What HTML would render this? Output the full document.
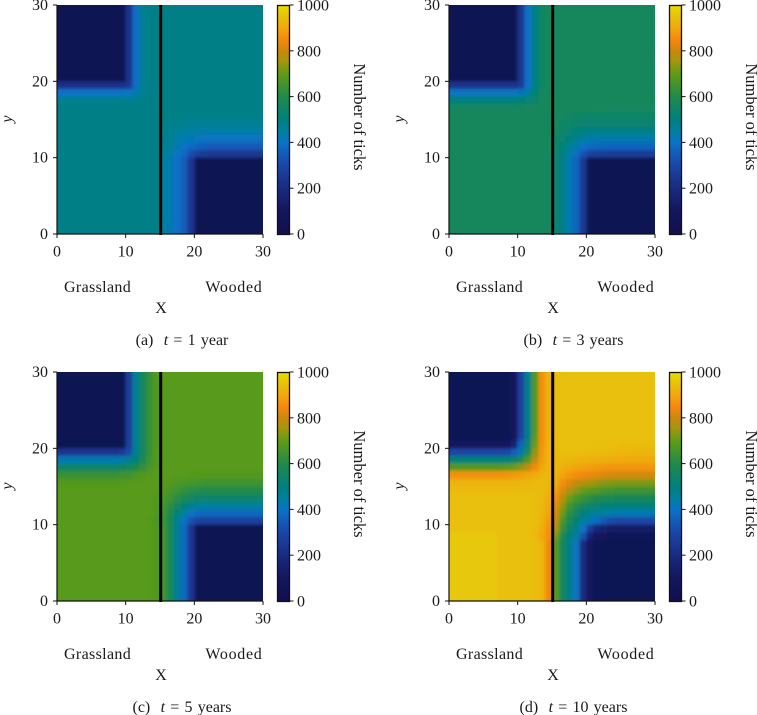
<!DOCTYPE html>
<html lang="en">
<head>
<meta charset="utf-8">
<title>Number of ticks over time</title>
<style>
html,body{margin:0;padding:0;background:#fff;width:757px;height:715px;overflow:hidden}
svg{display:block}
text{font-family:"Liberation Serif",serif;fill:#1a1a1a;font-size:16px}
</style>
</head>
<body>
<svg id="chart" xmlns="http://www.w3.org/2000/svg" width="757" height="715" viewBox="0 0 757 715">
<defs>
<filter id="soften" x="-5%" y="-5%" width="110%" height="110%"><feGaussianBlur stdDeviation="1.6"/></filter>
</defs>
</svg>
<script>
// ---------- chart data (rows run from y = 29..30 at the top down to y = 0..1) ----------
const axisTicks = [0, 10, 20, 30];
const colorbarTicks = [0, 200, 400, 600, 800, 1000];
const colorStopValues = [0, 100, 200, 300, 400, 450, 500, 600, 700, 760, 800, 850, 900, 950, 1000];
const colorStopColors = ['#10104e', '#12165c', '#1a2a80', '#1a45a5', '#0a72c8', '#00809f', '#008080', '#1f8a4c', '#5f9c14', '#a89410', '#c88a0a', '#f5880f', '#f0a80c', '#e8c00a', '#e8dc00'];
const habitatBoundaryX = 15.1;
const captionLetters = ['(a)', '(b)', '(c)', '(d)'];
const captionTimes = ['1 year', '3 years', '5 years', '10 years'];

const aTop = [30,30,30,30,30,30,30,30,30,30,230,390,475,490,490,490,490,490,490,490,490,490,490,490,490,490,490,490,490,490];
const aLow = [490,490,490,490,490,490,490,490,490,490,490,490,490,490,490,450,425,395,350,240,30,30,30,30,30,30,30,30,30,30];
const valuesA = [
aTop,aTop,aTop,aTop,aTop,aTop,aTop,aTop,aTop,aTop,
[220,220,220,220,220,220,220,220,220,220,250,390,475,490,490,490,490,490,490,490,490,490,490,490,490,490,490,490,490,490],
[400,400,400,400,400,400,400,400,400,400,410,435,480,490,490,490,490,490,490,490,490,490,490,490,490,490,490,490,490,490],
[475,475,475,475,475,475,475,475,475,475,478,482,488,490,490,490,490,490,490,490,490,490,490,490,490,490,490,490,490,490],
[490,490,490,490,490,490,490,490,490,490,490,490,490,490,490,490,490,490,490,490,490,490,490,490,490,490,490,490,490,490],
[490,490,490,490,490,490,490,490,490,490,490,490,490,490,490,490,490,490,488,487,485,485,485,485,485,485,485,485,485,485],
[490,490,490,490,490,490,490,490,490,490,490,490,490,490,490,490,485,478,472,470,470,470,470,470,470,470,470,470,470,470],
[490,490,490,490,490,490,490,490,490,490,490,490,490,490,490,485,475,462,452,445,440,440,440,440,440,440,440,440,440,440],
[490,490,490,490,490,490,490,490,490,490,490,490,490,490,490,480,468,450,430,418,410,408,405,405,405,405,405,405,405,405],
[490,490,490,490,490,490,490,490,490,490,490,490,490,490,490,475,458,430,400,385,370,360,350,350,350,350,350,350,350,350],
[490,490,490,490,490,490,490,490,490,490,490,490,490,490,490,465,440,410,385,320,270,260,255,250,250,250,250,250,250,250],
aLow,aLow,aLow,aLow,aLow,aLow,aLow,aLow,aLow,aLow
];

const bTop = [30,30,30,30,30,30,30,30,30,30,240,400,500,555,570,570,570,570,570,570,570,570,570,570,570,570,570,570,570,570];
const bLow = [570,570,570,570,570,570,570,570,570,570,570,570,570,570,560,530,490,430,370,250,30,30,30,30,30,30,30,30,30,30];
const valuesB = [
bTop,bTop,bTop,bTop,bTop,bTop,bTop,bTop,bTop,bTop,
[230,230,230,230,230,230,230,230,230,230,260,400,505,555,570,570,570,570,570,570,570,570,570,570,570,570,570,570,570,570],
[410,410,410,410,410,410,410,410,410,410,420,450,520,560,570,570,570,570,570,570,570,570,570,570,570,570,570,570,570,570],
[510,510,510,510,510,510,510,510,510,510,515,525,545,565,570,570,570,570,570,570,570,570,570,570,570,570,570,570,570,570],
[560,560,560,560,560,560,560,560,560,560,562,565,568,570,570,570,570,570,570,570,568,566,565,565,565,565,565,565,565,565],
[570,570,570,570,570,570,570,570,570,570,570,570,570,570,570,570,565,560,555,552,550,550,550,550,550,550,550,550,550,550],
[570,570,570,570,570,570,570,570,570,570,570,570,570,570,570,565,555,548,538,530,530,530,530,530,530,530,530,530,530,530],
[570,570,570,570,570,570,570,570,570,570,570,570,570,570,568,560,545,528,512,500,495,490,490,490,490,490,490,490,490,490],
[570,570,570,570,570,570,570,570,570,570,570,570,570,570,566,555,532,505,478,452,440,430,430,430,430,430,430,430,430,430],
[570,570,570,570,570,570,570,570,570,570,570,570,570,570,565,545,515,475,435,400,385,375,370,370,370,370,370,370,370,370],
[570,570,570,570,570,570,570,570,570,570,570,570,570,570,565,538,498,445,392,330,285,270,265,260,260,260,260,260,260,260],
bLow,bLow,bLow,bLow,bLow,bLow,bLow,bLow,bLow,bLow
];

const cTop = [30,30,30,30,30,30,30,30,30,30,270,470,575,640,680,690,690,690,690,690,690,690,690,690,690,690,690,690,690,690];
const cLow = [690,690,690,690,690,690,690,690,690,690,690,690,690,685,680,650,580,470,380,240,30,30,30,30,30,30,30,30,30,30];
const valuesC = [
cTop,cTop,cTop,cTop,cTop,cTop,cTop,cTop,cTop,cTop,
[240,240,240,240,240,240,240,240,240,255,320,480,580,640,680,690,690,690,690,690,690,690,690,690,690,690,690,690,690,690],
[430,430,430,430,430,430,430,430,430,440,470,520,590,645,680,690,690,690,690,690,690,690,690,690,690,690,690,690,690,690],
[550,550,550,550,550,550,550,550,550,555,575,600,630,665,685,690,690,690,690,690,690,690,690,690,690,690,690,690,690,690],
[640,640,640,640,640,640,640,640,640,645,650,665,680,688,690,690,690,688,686,685,682,680,680,680,680,680,680,680,680,680],
[680,680,680,680,680,680,680,680,680,682,684,686,688,690,690,685,680,670,665,660,655,650,650,650,650,650,650,650,650,650],
[690,690,690,690,690,690,690,690,690,690,690,690,690,690,690,680,665,650,630,615,610,605,605,605,605,605,605,605,605,605],
[690,690,690,690,690,690,690,690,690,690,690,690,690,690,685,670,645,615,585,560,545,540,540,540,540,540,540,540,540,540],
[690,690,690,690,690,690,690,690,690,690,690,690,690,690,680,655,620,570,520,480,465,455,455,455,455,455,455,455,455,455],
[690,690,690,690,690,690,690,690,690,690,690,690,690,690,675,645,590,515,450,405,385,375,375,375,375,375,375,375,375,375],
[690,690,690,690,690,690,690,690,690,690,690,690,690,685,670,640,575,480,395,330,290,280,280,280,280,280,280,280,280,280],
cLow,cLow,cLow,cLow,cLow,cLow,cLow,cLow,cLow,cLow
];

const dTop = [40,40,40,40,40,40,40,40,50,100,280,480,680,860,920,940,950,950,950,950,950,950,950,950,950,950,950,950,950,950];
const dLow = [965,965,965,965,965,965,965,950,950,950,950,950,945,930,850,680,570,490,410,200,100,70,50,40,40,40,40,40,40,40];
const valuesD = [
dTop,dTop,dTop,dTop,dTop,dTop,dTop,dTop,
[40,40,40,40,40,40,40,40,55,110,295,490,690,860,920,940,950,950,950,950,950,950,950,950,950,950,950,950,950,950],
[90,90,90,90,90,90,90,90,100,160,370,540,710,865,920,940,950,950,950,950,950,948,946,945,945,942,940,940,940,940],
[300,300,300,300,300,300,300,300,310,350,440,590,740,875,925,935,945,945,945,945,942,940,938,935,932,930,928,925,925,925],
[510,510,510,510,510,510,510,510,520,540,590,680,790,885,925,930,935,930,925,920,918,915,912,910,908,906,905,905,905,905],
[685,685,685,685,685,685,685,685,695,710,740,790,850,900,925,930,915,905,895,890,885,880,875,872,870,870,870,870,870,870],
[865,865,865,865,865,865,865,865,870,875,885,895,910,925,930,920,895,875,860,850,840,830,820,815,810,810,810,810,810,810],
[925,925,925,925,925,925,925,925,925,925,928,930,935,940,935,905,860,825,795,775,760,745,735,730,725,725,725,725,725,725],
[940,940,940,940,940,940,940,940,940,940,940,940,940,940,925,885,825,775,735,705,690,675,665,655,645,645,645,645,645,645],
[950,950,950,950,950,950,950,950,950,950,950,950,945,935,915,860,785,710,670,640,620,600,590,585,580,580,580,580,580,580],
[950,950,950,950,950,950,950,950,950,950,950,950,945,935,905,835,745,660,610,570,545,530,520,515,510,510,510,510,510,510],
[950,950,950,950,950,950,950,950,950,950,950,950,945,930,895,815,710,615,560,510,480,460,445,435,425,425,425,425,425,425],
[950,950,950,950,950,950,950,950,950,950,950,950,945,920,880,800,670,590,520,460,420,385,340,320,300,300,300,300,300,300],
[950,950,950,950,950,950,950,950,950,950,950,950,940,910,870,760,640,555,485,400,270,190,150,130,120,120,120,120,120,120],
[965,965,965,965,965,965,965,950,950,950,950,950,940,900,860,720,590,510,450,330,170,110,80,60,60,60,60,60,60,60],
dLow,dLow,dLow,dLow,dLow,dLow,dLow,dLow
];

const panelValues = [valuesA, valuesB, valuesC, valuesD];
const Y_MAX = 30, X_MAX = 30, COLOR_MAX = 1000;

// ---------- layout ----------
const layoutLeft = [57, 449, 57, 449];
const layoutTop = [5, 5, 372, 372];
const captionCenter = [182, 573.5, 182, 573.5];
const PLOT_W = 206, PLOT_H = 229;

const svg = document.getElementById('chart');
const NS = 'http://www.w3.org/2000/svg';
function make(tag, attrs, parent) {
  const node = document.createElementNS(NS, tag);
  for (const k in attrs) node.setAttribute(k, attrs[k]);
  (parent || svg).appendChild(node);
  return node;
}
function hexToRgb(h) {
  return [parseInt(h.slice(1, 3), 16), parseInt(h.slice(3, 5), 16), parseInt(h.slice(5, 7), 16)];
}
function colorFor(v) {
  const vs = colorStopValues;
  if (v <= vs[0]) return colorStopColors[0];
  for (let i = 1; i < vs.length; i++) {
    if (v <= vs[i]) {
      const t = (v - vs[i - 1]) / (vs[i] - vs[i - 1]);
      const a = hexToRgb(colorStopColors[i - 1]), b = hexToRgb(colorStopColors[i]);
      return 'rgb(' + a.map((c, n) => Math.round(c + (b[n] - c) * t)).join(',') + ')';
    }
  }
  return colorStopColors[colorStopColors.length - 1];
}

// colorbar gradient built from the colormap stops
const grad = make('linearGradient', {id: 'cbar', x1: 0, y1: 1, x2: 0, y2: 0}, svg.querySelector('defs'));
colorStopValues.forEach((v, i) => {
  make('stop', {offset: v / COLOR_MAX, 'stop-color': colorStopColors[i]}, grad);
});

panelValues.forEach((rows, p) => {
  const left = layoutLeft[p], top = layoutTop[p];
  const xScale = v => left + v / X_MAX * PLOT_W;
  const yScale = v => top + PLOT_H - v / Y_MAX * PLOT_H;
  const cbLeft = left + 220.5, cbRight = left + 232.5;
  const cbScale = v => top + PLOT_H - v / COLOR_MAX * PLOT_H;

  const panel = make('g', {});
  
  

  // heatmap cells
  const clipId = 'clip' + p;
  const clip = make('clipPath', {id: clipId}, svg.querySelector('defs'));
  make('rect', {x: left, y: top, width: PLOT_W, height: PLOT_H}, clip);
  const clipGroup = make('g', {'clip-path': 'url(#' + clipId + ')'}, panel);
  
  
  const cells = make('g', {filter: 'url(#soften)', 'shape-rendering': 'crispEdges'}, clipGroup);
  rows.forEach((row, r) => {
    const yTopVal = Y_MAX - r;
    row.forEach((val, c) => {
      const pad = 8;
      let x0 = xScale(c), x1 = xScale(c + 1) + 0.5, y0 = yScale(yTopVal), y1 = yScale(yTopVal - 1) + 0.5;
      if (c === 0) x0 -= pad;
      if (c === row.length - 1) x1 += pad;
      if (r === 0) y0 -= pad;
      if (r === rows.length - 1) y1 += pad;
      const cell = make('rect', {x: x0, y: y0, width: x1 - x0, height: y1 - y0, fill: colorFor(val)}, cells);
      
      
    });
  });

  // habitat boundary
  const boundary = make('line', {x1: xScale(habitatBoundaryX), x2: xScale(habitatBoundaryX), y1: top, y2: top + PLOT_H + 1, stroke: '#000', 'stroke-width': 3}, panel);
  
  

  // spines
  const leftSpine = make('line', {x1: left, x2: left, y1: top, y2: top + PLOT_H + 0.6, stroke: '#111', 'stroke-width': 1.2}, panel);
  
  
  const bottomSpine = make('line', {x1: left, x2: left + PLOT_W, y1: top + PLOT_H, y2: top + PLOT_H, stroke: '#111', 'stroke-width': 1.2}, panel);
  
  

  // axis ticks and labels
  axisTicks.forEach(t => {
    const xt = make('line', {x1: xScale(t), x2: xScale(t), y1: top + PLOT_H, y2: top + PLOT_H + 4, stroke: '#111', 'stroke-width': 1}, panel);
    
    
    const xl = make('text', {x: xScale(t), y: top + PLOT_H + 22.5, 'text-anchor': 'middle'}, panel);
    xl.textContent = t;
    
    
    const yt = make('line', {x1: left - 4, x2: left, y1: yScale(t), y2: yScale(t), stroke: '#111', 'stroke-width': 1}, panel);
    
    
    const yl = make('text', {x: left - 9, y: yScale(t) + 5, 'text-anchor': 'end'}, panel);
    yl.textContent = t;
    
    
  });

  // colorbar
  const bar = make('rect', {x: cbLeft, y: top + 0.5, width: cbRight - cbLeft, height: PLOT_H, fill: 'url(#cbar)', stroke: '#111', 'stroke-width': 1.3}, panel);
  
  
  colorbarTicks.forEach(t => {
    const ct = make('line', {x1: cbRight, x2: cbRight + 4, y1: cbScale(t), y2: cbScale(t), stroke: '#111', 'stroke-width': 1}, panel);
    
    
    const cl = make('text', {x: cbRight + 7.5, y: cbScale(t) + 5.5}, panel);
    cl.textContent = t;
    
    
  });
  const cbX = left + 297, cbY = top + 112;
  const cbTitle = make('text', {x: cbX, y: cbY, 'text-anchor': 'middle', transform: 'rotate(90 ' + cbX + ' ' + cbY + ')'}, panel);
  cbTitle.style.fontSize = '16.5px';
  cbTitle.textContent = 'Number of ticks';
  
  

  // axis titles
  const yX = left - 45, yY = top + 114;
  const yTitle = make('text', {x: yX, y: yY, 'text-anchor': 'middle', transform: 'rotate(-90 ' + yX + ' ' + yY + ')', 'font-style': 'italic'}, panel);
  yTitle.textContent = 'y';
  
  
  const xTitle = make('text', {x: left + 104, y: top + 308, 'text-anchor': 'middle'}, panel);
  xTitle.textContent = 'X';
  
  
  const grass = make('text', {x: left + 7, y: top + 287, 'letter-spacing': '0.35'}, panel);
  grass.textContent = 'Grassland';
  
  
  const wood = make('text', {x: left + 205.5, y: top + 287, 'text-anchor': 'end', 'letter-spacing': '0.7'}, panel);
  wood.textContent = 'Wooded';
  
  

  // caption
  const cap = make('text', {x: captionCenter[p], y: top + 340, 'text-anchor': 'middle', 'word-spacing': '1.2'}, panel);
  cap.style.fontSize = '16px';
  
  
  const capA = make('tspan', {}, cap);
  capA.textContent = captionLetters[p] + '\u00a0 ';
  const capB = make('tspan', {'font-style': 'italic'}, cap);
  capB.textContent = 't';
  const capC = make('tspan', {}, cap);
  capC.textContent = ' = ' + captionTimes[p];
});
</script>
</body>
</html>
